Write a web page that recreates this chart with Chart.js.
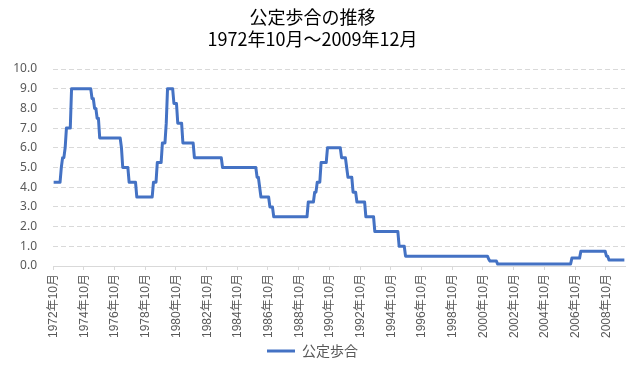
<!DOCTYPE html>
<html lang="ja">
<head>
  <meta charset="UTF-8">
  <title>公定歩合の推移</title>
  <script src="https://cdn.jsdelivr.net/npm/chart.js"></script>
  <style>
    * { margin: 0; padding: 0; }
    body { background: #fff; }
    .wrap { width: 634px; height: 377px; }
  </style>
</head>
<body>
<div class="wrap">
  <canvas id="rateChart" width="634" height="377"></canvas>
</div>

<script>
  // period shown: 1972/10 - 2009/12 (monthly, end of month values)
  const startYm = [1972, 10];
  const endYm = [2009, 12];

  // months in which the official discount rate changed, and the new rate (%)
  const changeMonths = [
    '1972-10', '1973-04', '1973-05', '1973-07', '1973-08', '1973-12',
    '1975-04', '1975-06', '1975-08', '1975-10',
    '1977-03', '1977-04', '1977-09', '1978-03',
    '1979-04', '1979-07', '1979-11', '1980-02', '1980-03', '1980-08', '1980-11',
    '1981-03', '1981-12', '1983-10',
    '1986-01', '1986-03', '1986-04', '1986-11', '1987-02',
    '1989-05', '1989-10', '1989-12', '1990-03', '1990-08',
    '1991-07', '1991-11', '1991-12', '1992-04', '1992-07',
    '1993-02', '1993-09', '1995-04', '1995-09',
    '2001-02', '2001-03', '2001-09',
    '2006-07', '2007-02', '2008-10', '2008-12'
  ];
  const changeRates = [
    4.25, 5.00, 5.50, 6.00, 7.00, 9.00,
    8.50, 8.00, 7.50, 6.50,
    6.00, 5.00, 4.25, 3.50,
    4.25, 5.25, 6.25, 7.25, 9.00, 8.25, 7.25,
    6.25, 5.50, 5.00,
    4.50, 4.00, 3.50, 3.00, 2.50,
    3.25, 3.75, 4.25, 5.25, 6.00,
    5.50, 5.00, 4.50, 3.75, 3.25,
    2.50, 1.75, 1.00, 0.50,
    0.35, 0.25, 0.10,
    0.40, 0.75, 0.50, 0.30
  ];

  const seriesName = '公定歩合';
  const titleLines = ['公定歩合の推移', '1972年10月～2009年12月'];
  const yTicks = [0, 1, 2, 3, 4, 5, 6, 7, 8, 9, 10];

  // build monthly categories and hold each rate until the next change
  const labels = [];
  const rates = [];
  let y = startYm[0], m = startYm[1], k = 0, cur = changeRates[0];
  while (y < endYm[0] || (y === endYm[0] && m <= endYm[1])) {
    const key = y + '-' + String(m).padStart(2, '0');
    if (k < changeMonths.length && changeMonths[k] === key) {
      cur = changeRates[k];
      k++;
    }
    labels.push(y + '年' + m + '月');
    rates.push(cur);
    m++;
    if (m > 12) { m = 1; y++; }
  }

  const CJK = '"Noto Sans CJK JP", "Noto Sans", sans-serif';
  const NUM = '"Liberation Sans", "Noto Sans CJK JP", sans-serif';
  const GRID = '#D9D9D9';
  const TEXT = '#595959';

  new Chart(document.getElementById('rateChart'), {
    type: 'line',
    data: {
      labels: labels,
      datasets: [{
        label: seriesName,
        data: rates,
        borderColor: '#4472C4',
        backgroundColor: '#4472C4',
        borderWidth: 3,
        pointRadius: 0,
        tension: 0,
        borderJoinStyle: 'round'
      }]
    },
    options: {
      responsive: false,
      animation: false,
      layout: { padding: { left: 0, right: 9, top: 0, bottom: 9 } },
      plugins: {
        title: {
          display: true,
          text: titleLines,
          color: '#000',
          font: { family: CJK, size: 18, weight: 'normal', lineHeight: 22 / 18 },
          padding: { top: 6, bottom: 19 }
        },
        legend: {
          position: 'bottom',
          labels: {
            usePointStyle: true,
            pointStyle: 'line',
            pointStyleWidth: 28,
            color: TEXT,
            font: { family: CJK, size: 14 },
            padding: 2
          }
        },
        tooltip: { enabled: false }
      },
      scales: {
        x: {
          offset: true,
          border: { color: GRID, width: 1 },
          grid: {
            offset: true,
            drawOnChartArea: false,
            drawTicks: true,
            tickLength: 4,
            color: (c) => (c.index % 24 === 0 ? GRID : 'rgba(0,0,0,0)')
          },
          ticks: {
            autoSkip: false,
            minRotation: 90,
            maxRotation: 90,
            padding: 4,
            color: TEXT,
            font: { family: NUM, size: 12 },
            callback: function (val, i) {
              return i % 24 === 0 ? this.getLabelForValue(val) : '';
            }
          },
          afterFit: (s) => {
            s.height = 76;
            s.paddingLeft = 0;
            s.paddingRight = 0;
          }
        },
        y: {
          min: 0,
          max: 10,
          border: { display: false, dash: [5, 3] },
          grid: {
            color: GRID,
            lineWidth: 1,
            drawTicks: false
          },
          ticks: {
            stepSize: 1,
            padding: 16,
            color: TEXT,
            font: { family: '"Noto Sans", sans-serif', size: 12 },
            callback: (v) => (yTicks.includes(v) ? v.toFixed(1) : '')
          },
          afterFit: (s) => {
            s.width = 53;
            s.paddingTop = 0;
            s.paddingBottom = 0;
          }
        }
      }
    }
  });
</script>
</body>
</html>
